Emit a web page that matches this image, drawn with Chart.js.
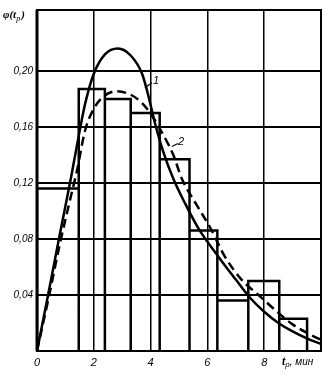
<!DOCTYPE html>
<html>
<head>
<meta charset="utf-8">
<script src="https://cdn.jsdelivr.net/npm/chart.js@4.4.0/dist/chart.umd.min.js"></script>
<style>
  html, body { margin: 0; padding: 0; background: #fff; }
  #wrap { width: 326px; height: 374px; }
</style>
</head>
<body>
<div id="wrap"><canvas id="chart"></canvas></div>
<script>
// histogram: bin edges (min) and relative frequencies
const binEdges = [0, 1.47, 2.39, 3.30, 4.32, 5.37, 6.35, 7.44, 8.53, 9.51];
const binHeights = [0.116, 0.187, 0.180, 0.170, 0.137, 0.086, 0.036, 0.050, 0.023];

// curve 1 (solid)
const curve1X = [0, 0.4, 0.8, 1.2, 1.5, 1.7, 2.0, 2.4, 2.85, 3.3, 3.7, 3.9, 4.15, 4.45, 4.8, 5.2, 5.7, 6.4, 7.0, 7.5, 8.0, 8.5, 9.0, 9.5, 10];
const curve1Y = [0, 0.041, 0.083, 0.124, 0.157, 0.177, 0.198, 0.212, 0.216, 0.211, 0.198, 0.184, 0.163, 0.142, 0.123, 0.106, 0.087, 0.067, 0.051, 0.038, 0.028, 0.020, 0.014, 0.009, 0.005];

// curve 2 (dashed)
const curve2X = [0, 0.4, 0.8, 1.2, 1.4, 1.7, 2.0, 2.3, 2.8, 3.3, 3.7, 4.05, 4.4, 4.8, 5.1, 5.6, 6.1, 6.6, 7.2, 7.8, 8.4, 9.0, 9.5, 10];
const curve2Y = [0, 0.037, 0.076, 0.111, 0.128, 0.158, 0.173, 0.181, 0.1855, 0.183, 0.177, 0.168, 0.156, 0.140, 0.123, 0.105, 0.088, 0.068, 0.051, 0.040, 0.029, 0.019, 0.013, 0.008];

const xTicks = [0, 2, 4, 6, 8];
const yTicks = [0.04, 0.08, 0.12, 0.16, 0.20];

// outline of the histogram bars, built from edges/heights
const histPoints = [];
binHeights.forEach((h, i) => {
    histPoints.push({x: binEdges[i], y: 0});
    histPoints.push({x: binEdges[i], y: h});
    histPoints.push({x: binEdges[i + 1], y: h});
    histPoints.push({x: binEdges[i + 1], y: 0});
});

const toPts = (xs, ys) => xs.map((x, i) => ({x: x, y: ys[i]}));

const labelFont = 'italic 11px "Liberation Sans", Arial, sans-serif';

// frame, axis titles and curve labels
const extras = {
    id: 'extras',
    afterDraw(chart) {
        const ctx = chart.ctx;
        const a = chart.chartArea;
        const xs = chart.scales.x, ys = chart.scales.y;
        ctx.save();
        ctx.strokeStyle = '#000';
        ctx.lineWidth = 2;
        ctx.strokeRect(a.left, a.top, a.right - a.left, a.bottom - a.top);
        ctx.lineWidth = 3;
        ctx.beginPath();
        ctx.moveTo(a.left, a.top);
        ctx.lineTo(a.left, a.bottom);
        ctx.stroke();

        ctx.fillStyle = '#000';
        ctx.textBaseline = 'middle';
        ctx.textAlign = 'left';
        // y title φ(tр)
        ctx.font = 'italic bold 11px "Liberation Serif", serif';
        ctx.fillText('\u03c6(t', 3, 15);
        let w = ctx.measureText('\u03c6(t').width;
        ctx.font = 'italic 8px "Liberation Serif", serif';
        ctx.fillText('\u0440', 3 + w, 19);
        let w2 = ctx.measureText('\u0440').width;
        ctx.font = 'italic bold 11px "Liberation Serif", serif';
        ctx.fillText(')', 3 + w + w2 + 1, 15);

        // x title tр, мин
        const tx = 282, ty = 362;
        ctx.font = 'italic bold 12px "Liberation Serif", serif';
        ctx.fillText('t', tx, ty);
        w = ctx.measureText('t').width;
        ctx.font = 'italic 8px "Liberation Sans", sans-serif';
        ctx.fillText('\u0440', tx + w, ty + 3);
        w2 = ctx.measureText('\u0440').width;
        ctx.font = 'italic 10px "Liberation Sans", sans-serif';
        ctx.fillText(', \u043c\u0438\u043d', tx + w + w2, ty);

        // curve labels with leader lines
        ctx.lineWidth = 1.2;
        ctx.font = 'italic 11px "Liberation Sans", sans-serif';
        const p1 = {x: xs.getPixelForValue(3.8), y: ys.getPixelForValue(0.188)};
        ctx.beginPath();
        ctx.moveTo(p1.x, p1.y);
        ctx.lineTo(p1.x + 7, p1.y - 5);
        ctx.stroke();
        ctx.fillText('1', p1.x + 8, p1.y - 7);
        const p2 = {x: xs.getPixelForValue(4.75), y: ys.getPixelForValue(0.146)};
        ctx.beginPath();
        ctx.moveTo(p2.x, p2.y);
        ctx.lineTo(p2.x + 6, p2.y - 3);
        ctx.stroke();
        ctx.fillText('2', p2.x + 6, p2.y - 5);
        ctx.restore();
    }
};

new Chart(document.getElementById('chart'), {
    type: 'line',
    data: {
        datasets: [{
            label: 'hist',
            data: histPoints,
            borderColor: '#000',
            borderWidth: 2.5,
            pointRadius: 0,
            tension: 0,
            borderJoinStyle: 'miter'
        }, {
            label: '1',
            data: toPts(curve1X, curve1Y),
            borderColor: '#000',
            borderWidth: 2.5,
            pointRadius: 0,
            cubicInterpolationMode: 'monotone'
        }, {
            label: '2',
            data: toPts(curve2X, curve2Y),
            borderColor: '#000',
            borderWidth: 2.5,
            borderDash: [9, 5],
            pointRadius: 0,
            cubicInterpolationMode: 'monotone'
        }]
    },
    options: {
        responsive: true,
        maintainAspectRatio: false,
        animation: false,
        layout: { padding: { left: 0, top: 7, right: 5, bottom: 0 } },
        plugins: { legend: { display: false }, tooltip: { enabled: false } },
        scales: {
            x: {
                type: 'linear',
                min: 0,
                max: 10,
                afterFit: s => { s.height = 23; },
                afterBuildTicks: s => { s.ticks = xTicks.map(v => ({value: v})); },
                grid: { color: '#000', lineWidth: 1.5, drawTicks: false },
                border: { display: false },
                ticks: {
                    padding: 5,
                    color: '#000',
                    font: { family: '"Liberation Sans", Arial, sans-serif', style: 'italic', size: 11 },
                    callback: v => String(v)
                }
            },
            y: {
                min: 0,
                max: 0.2435,
                afterFit: s => { s.width = 37; },
                afterBuildTicks: s => { s.ticks = yTicks.map(v => ({value: v})); },
                grid: { color: '#000', lineWidth: 2, drawTicks: false },
                border: { display: false },
                ticks: {
                    padding: 4,
                    color: '#000',
                    font: { family: '"Liberation Sans", Arial, sans-serif', style: 'italic', size: 10 },
                    callback: v => v.toFixed(2).replace('.', ',')
                }
            }
        }
    },
    plugins: [extras]
});
</script>
</body>
</html>
